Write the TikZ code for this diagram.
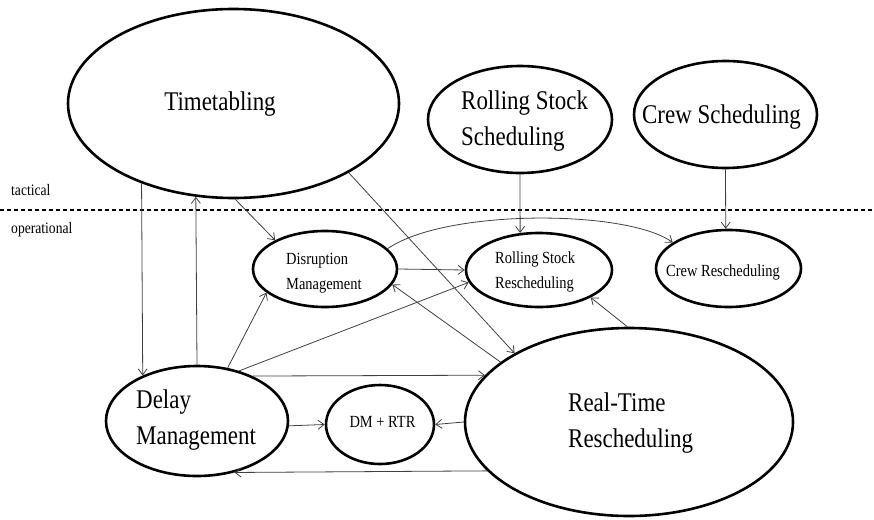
\documentclass[tikz,border=0pt]{standalone}
\usepackage{fontspec}
\setmainfont{Liberation Serif}[FakeStretch=0.85]
\usetikzlibrary{arrows.meta,shapes.geometric}
\begin{document}
\begin{tikzpicture}[x=1pt,y=-1pt,
  ell/.style={draw, ellipse, line width=2.6pt, inner sep=0pt},
  big/.style={font=\fontsize{27}{36}\selectfont, inner sep=0pt, align=left},
  small/.style={font=\fontsize{17}{25}\selectfont, inner sep=0pt, align=left},
  lab/.style={font=\fontsize{16}{20}\selectfont, inner sep=0pt},
  conn/.style={draw=black!75, line width=0.8pt, -{Straight Barb[length=6pt,width=9pt]}},
  levelline/.style={draw=black, line width=1.2pt, dash pattern=on 4pt off 3pt}
]
\useasboundingbox (0,0) rectangle (874,519);

% level separator
\coordinate (dl) at (0,210);
\coordinate (dr) at (874,210);
\draw[levelline] (dl) -- (dr);
\node[lab, anchor=base west] (tac) at (11,195) {tactical};
\node[lab, anchor=base west] (ope) at (11,233) {operational};

% ellipses
\node[ell, minimum width=331pt, minimum height=189pt] (tt) at (233.5,103.5) {};
\node[ell, minimum width=184pt, minimum height=107pt] (rss) at (520,119.5) {};
\node[ell, minimum width=183pt, minimum height=107pt] (cs) at (725.5,114.5) {};
\node[ell, minimum width=144pt, minimum height=76pt] (dism) at (325,269) {};
\node[ell, minimum width=146pt, minimum height=74pt] (rsr) at (539,270) {};
\node[ell, minimum width=145pt, minimum height=77pt] (cr) at (728.5,268.5) {};
\node[ell, minimum width=182pt, minimum height=110pt] (dlm) at (197,421) {};
\node[ell, minimum width=108pt, minimum height=79pt] (dmrtr) at (380,424.5) {};
\node[ell, minimum width=328pt, minimum height=188pt] (rtr) at (629,422) {};

% texts
\node[big, anchor=base] (ttt) at (220,110) {Timetabling};
\node[big, anchor=west] (rsst) at (461,121.5) {Rolling Stock\\Scheduling};
\node[big, anchor=base] (cst) at (721.5,123) {Crew Scheduling};
\node[small, anchor=west] (dismt) at (286,273) {Disruption\\Management};
\node[small, anchor=west] (rsrt) at (495,271.5) {Rolling Stock\\Rescheduling};
\node[small, anchor=base] (crt) at (723,276) {Crew Rescheduling};
\node[big, anchor=west] (dlmt) at (136,420.5) {Delay\\Management};
\node[small, anchor=base] (dmrtrt) at (382.5,427) {DM + RTR};
\node[big, anchor=west] (rtrt) at (568,423) {Real-Time\\Rescheduling};

% connectors
\draw[conn] (tt.221.1) -- (dlm.140.8);
\draw[conn] (dlm.90) -- (tt.248.6);
\draw[conn] (tt.271) -- (dism.150.8);
\draw[conn] (tt.329.6) -- (rtr.149.5);
\draw[conn] (rss.270) -- (rsr.117.4);
\draw[conn] (cs.270) -- (cr.94.4);
\draw[conn] (dism.18) .. controls +(58,-40) and +(-46,-33) .. (cr.155);
\draw[conn] (dism.0) -- (rsr.180);
\draw[conn] (dlm.60.9) -- (dism.202);
\draw[conn] (dlm.50.4) -- (rsr.190.4);
\draw[conn] (rtr.155.6) -- (dism.347.1);
\draw[conn] (rtr.91) -- (rsr.332.6);
\draw[conn] (dlm.39.4) -- (rtr.162.3);
\draw[conn] (dlm.357) -- (dmrtr.180);
\draw[conn] (rtr.180) -- (dmrtr.0);
\draw[conn] (rtr.199.6) -- (dlm.306.7);
\end{tikzpicture}
\end{document}
